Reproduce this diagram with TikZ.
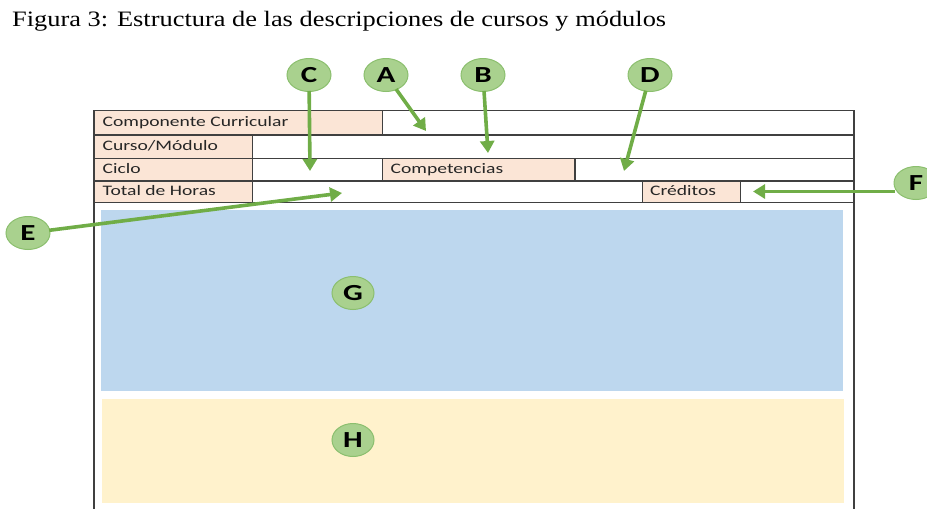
\documentclass[tikz,border=0pt]{standalone}
\usepackage{graphicx}
\usepackage{fontspec}
\setmainfont{Liberation Serif}
\newfontfamily\calib{Carlito}
\usetikzlibrary{arrows.meta,shapes.geometric}
\newcommand\hstretch[1]{\scalebox{1.35}[1]{#1}}
\definecolor{lblfill}{HTML}{FBE5D6}
\definecolor{gridline}{HTML}{404040}
\definecolor{bluebox}{HTML}{BDD7EE}
\definecolor{yellowbox}{HTML}{FFF2CC}
\definecolor{markfill}{HTML}{A9D18E}
\definecolor{markline}{HTML}{8BBF6E}
\definecolor{arrowgreen}{HTML}{70AD47}
\tikzset{
  cell/.style={draw=gridline, line width=1.1pt},
  lblcell/.style={cell, fill=lblfill},
  celltext/.style={anchor=west, inner sep=0pt, font=\calib\fontsize{14.5}{16}\selectfont, text=black!85, text height=10pt, text depth=3pt},
  marker/.style={ellipse, draw=markline, line width=1pt, fill=markfill, minimum width=44pt, minimum height=33pt, inner sep=0pt, font=\calib\bfseries\fontsize{23}{24}\selectfont},
  smallmarker/.style={marker, minimum width=42pt, minimum height=33pt},
  pointer/.style={draw=arrowgreen, line width=3.6pt, -{Triangle[length=12pt,width=14pt]}, shorten <=-1pt},
}
\begin{document}
\begin{tikzpicture}[x=1pt,y=-1pt]
\useasboundingbox (0,0) rectangle (927,509);
% title
\node[anchor=base west, inner sep=0pt, font=\fontsize{22}{24}\selectfont] (title) at (12,26.5) {\scalebox{1.2}[1]{Figura 3: Estructura de las descripciones de cursos y módulos}};
% coloured areas
\fill[bluebox] (100.7,209.7) rectangle (843.3,391);
\fill[yellowbox] (102,399) rectangle (844,503);
% outer frame
\draw[cell] (94,202.7) -- (94,512);
\draw[cell] (854,202.7) -- (854,512);
% row 1
\draw[lblcell] (94,110.7) rectangle (382.7,135);
\draw[cell] (382.7,110.7) rectangle (854,135);
% row 2
\draw[lblcell] (94,135) rectangle (252.7,158.3);
\draw[cell] (252.7,135) rectangle (854,158.3);
% row 3
\draw[lblcell] (94,158.3) rectangle (252.7,181);
\draw[cell] (252.7,158.3) rectangle (382.7,181);
\draw[lblcell] (382.7,158.3) rectangle (575,181);
\draw[cell] (575,158.3) rectangle (854,181);
% row 4
\draw[lblcell] (94,181) rectangle (252.7,202.7);
\draw[cell] (252.7,181) rectangle (642.7,202.7);
\draw[lblcell] (642.7,181) rectangle (740.7,202.7);
\draw[cell] (740.7,181) rectangle (854,202.7);
% cell texts
\node[celltext] (t1) at (102.5,122.8) {\hstretch{Componente Curricular}};
\node[celltext] (t2) at (102.5,146.5) {\hstretch{Curso/Módulo}};
\node[celltext] (t3) at (102.5,169.5) {\hstretch{Ciclo}};
\node[celltext] (t4) at (390.5,169.5) {\hstretch{Competencias}};
\node[celltext] (t5) at (102.5,191.7) {\hstretch{Total de Horas}};
\node[celltext] (t6) at (650,191.7) {\hstretch{Créditos}};
% markers
\node[marker] (C) at (309,75) {\hstretch{C}};
\node[marker] (A) at (386,75) {\hstretch{A}};
\node[marker] (B) at (483,75) {\hstretch{B}};
\node[marker] (D) at (650,75) {\hstretch{D}};
\node[marker] (F) at (916,183) {\hstretch{F}};
\node[marker] (E) at (28,233) {\hstretch{E}};
\node[smallmarker] (G) at (353,293) {\hstretch{G}};
\node[smallmarker] (H) at (353,440) {\hstretch{H}};
% arrow targets
\coordinate (cT) at (310,171);
\coordinate (aT) at (426,131);
\coordinate (bT) at (488,153);
\coordinate (dT) at (624,171);
\coordinate (fT) at (753,191.5);
\coordinate (eT) at (342,193);
\draw[pointer] (C) -- (cT);
\draw[pointer] (A) -- (aT);
\draw[pointer] (B) -- (bT);
\draw[pointer] (D) -- (dT);
\draw[pointer] (F.west |- fT) -- (fT);
\draw[pointer] (E) -- (eT);
\end{tikzpicture}
\end{document}
